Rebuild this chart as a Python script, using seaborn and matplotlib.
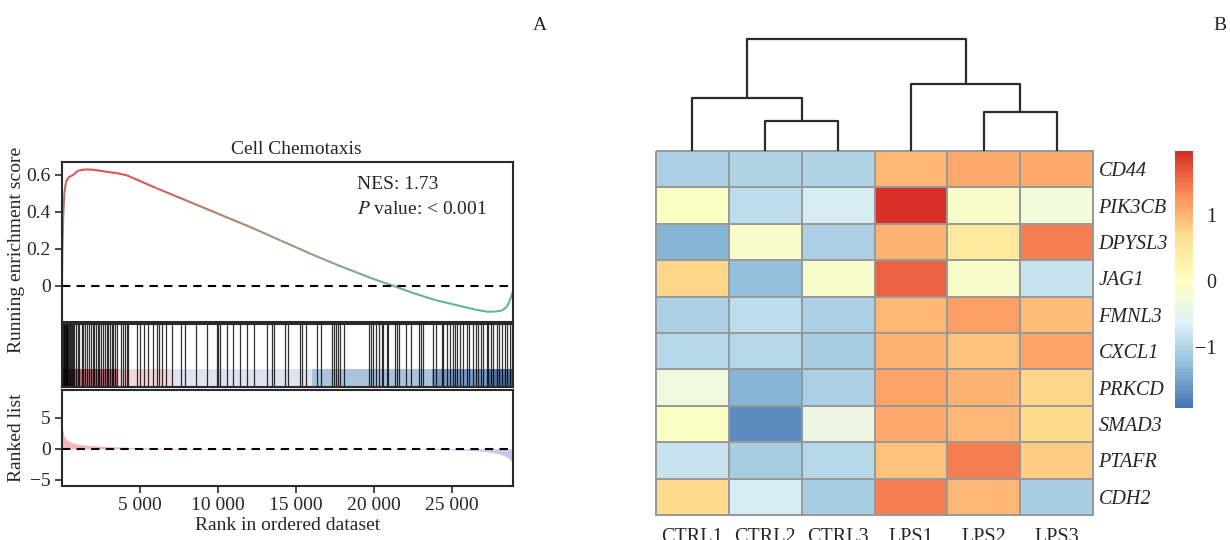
import numpy as np
import pandas as pd
import matplotlib
matplotlib.use('Agg')
import matplotlib.pyplot as plt
import seaborn as sns
from matplotlib.collections import LineCollection
from matplotlib.colors import LinearSegmentedColormap

# ---------------- Panel A: GSEA ----------------
n_genes = 28900
gene_set = 'Cell Chemotaxis'
nes_text = 'NES: 1.73'

es_rank = [0, 30, 80, 150, 250, 400, 600, 800, 1000, 1500, 2000, 2500, 3000, 3500, 4150,
           6000, 8000, 10000, 12000, 14000, 16000, 18000, 20000, 21200, 22500,
           24000, 25500, 26500, 27300, 27800, 28200, 28500, 28700, 28900]
es_score = [0.0, 0.2, 0.38, 0.5, 0.56, 0.585, 0.595, 0.605, 0.622, 0.63, 0.628, 0.622, 0.615, 0.61, 0.598,
            0.53, 0.46, 0.39, 0.32, 0.245, 0.17, 0.1, 0.035, 0.0, -0.04,
            -0.08, -0.11, -0.13, -0.142, -0.14, -0.135, -0.115, -0.08, -0.03]

hit_ranks = [20, 60, 110, 150, 192, 230, 260, 300, 350, 406, 450, 513, 550, 620, 684, 769, 897,
             1047, 1111, 1260, 1367, 1496, 1624, 1752, 1859, 1966, 2073, 2180, 2286, 2393, 2500,
             2650, 2756, 2863, 2970, 3077, 3184, 3290, 3397, 3504, 3782, 3889, 4038, 4145, 4252,
             4829, 5000, 5278, 5534, 5812, 6111, 6239, 6389, 6667, 7030, 7607, 7885, 8590, 9274,
             9915, 10021, 10128, 10556, 10983, 11410, 11838, 12329, 13120, 13483, 13611, 14295,
             14509, 15256, 15406, 15620, 16325, 16603, 17286, 17457, 17543, 17671, 17821, 18100,
             19650, 19800, 19950, 20100, 20300, 20491, 20598, 20855, 20919, 21346, 21453, 21624,
             22051, 22350, 22906, 22991, 23162, 23761, 23974, 24338, 24444, 24701, 24872, 25043,
             25192, 25342, 25513, 25726, 25940, 26111, 26368, 26538, 26688, 26838, 27009, 27222,
             27329, 27479, 27650, 27863, 28034, 28184, 28397, 28547, 28718, 28825]

band_edges = [0, 3500, 7000, 16000, 23700, 27300, 28900]
band_colors = ['#B25E6A', '#F0D2D8', '#D9E1ED', '#A2BBD6', '#658CBA', '#396196']

metric_rank = [0, 20, 50, 100, 150, 300, 600, 1000, 2000, 3000, 5000, 7000, 10000, 15000,
               20000, 24000, 26000, 27000, 28000, 28500, 28800, 28900]
metric_value = [4.5, 3.6, 3.0, 2.4, 2.0, 1.5, 1.0, 0.75, 0.5, 0.35, 0.2, 0.1, 0.03, 0.0,
                -0.03, -0.1, -0.25, -0.4, -0.8, -1.3, -2.0, -2.7]

# ---------------- Panel B: heatmap (row z-scores) ----------------
genes = ['CD44', 'PIK3CB', 'DPYSL3', 'JAG1', 'FMNL3', 'CXCL1', 'PRKCD', 'SMAD3', 'PTAFR', 'CDH2']
samples = ['CTRL1', 'CTRL2', 'CTRL3', 'LPS1', 'LPS2', 'LPS3']
ctrl1 = [-1.04, -0.05, -1.35, 0.75, -1.04, -0.97, -0.32, -0.02, -0.83, 0.72]
ctrl2 = [-0.99, -0.89, -0.10, -1.25, -0.89, -0.95, -1.35, -1.72, -1.07, -0.70]
ctrl3 = [-0.99, -0.71, -1.05, -0.10, -1.03, -1.07, -1.04, -0.39, -0.98, -1.07]
lps1 = [0.97, 1.97, 1.00, 1.60, 0.97, 1.03, 1.12, 1.10, 0.89, 1.42]
lps2 = [1.09, -0.10, 0.48, -0.12, 1.16, 0.90, 1.02, 0.97, 1.40, 0.98]
lps3 = [1.09, -0.26, 1.42, -0.81, 0.95, 1.13, 0.76, 0.72, 0.81, -1.07]
vmin, vmax = -1.92, 1.97
tick_vals = [-1, 0, 1]

# column clustering: (left, right, height); leaves 0..5, new nodes numbered from 6
col_linkage = [(1, 2, 30), (0, 6, 53), (4, 5, 39), (3, 8, 68), (7, 9, 113)]

pheat_colors = ['#4575B4', '#91BFDB', '#E0F3F8', '#FFFFBF', '#FEE090', '#FC8D59', '#D73027']


def fmt_thousands(v):
    return f'{int(v):,}'.replace(',', ' ')


def dendro_segments(linkage, n):
    xpos = {i: i + 0.5 for i in range(n)}
    ypos = {i: 0.0 for i in range(n)}
    segs = []
    for k, (a, b, h) in enumerate(linkage):
        segs.append([(xpos[a], ypos[a]), (xpos[a], h), (xpos[b], h), (xpos[b], ypos[b])])
        xpos[n + k] = (xpos[a] + xpos[b]) / 2
        ypos[n + k] = h
    return segs


sns.set_theme(style='white')
plt.rcParams['font.family'] = ['Liberation Serif', 'DejaVu Serif']
plt.rcParams['font.size'] = 14
plt.rcParams['mathtext.fontset'] = 'stix'

W, H = 1230, 540
fig = plt.figure(figsize=(W / 100, H / 100), dpi=100)


def px_axes(x0, y0, x1, y1):
    return fig.add_axes([x0 / W, 1 - y1 / H, (x1 - x0) / W, (y1 - y0) / H])


ax_es = px_axes(62, 162, 513, 322)
ax_hit = px_axes(62, 324, 513, 387)
ax_rank = px_axes(62, 390, 513, 486)

frame_col = '#2a2a2a'
for ax in (ax_es, ax_hit, ax_rank):
    ax.set_xlim(0, n_genes)
    for sp in ax.spines.values():
        sp.set_color(frame_col)
        sp.set_linewidth(1.5)
        sp.set_visible(True)

# running enrichment score with a red -> green gradient
pts = np.column_stack([es_rank, es_score]).reshape(-1, 1, 2)
segs = np.concatenate([pts[:-1], pts[1:]], axis=1)
es_cmap = LinearSegmentedColormap.from_list('es', ['#5DB897', '#9A9A80', '#E04E50'])
mid = (np.array(es_score[:-1]) + np.array(es_score[1:])) / 2
lc = LineCollection(segs, cmap=es_cmap, norm=plt.Normalize(-0.14, 0.63), linewidth=1.5)
lc.set_array(mid)
ax_es.add_collection(lc)
ax_es.axhline(0, color='black', ls=(0, (4, 3)), lw=1.5)
ax_es.set_ylim(-0.197, 0.67)
ax_es.set_yticks([0, 0.2, 0.4, 0.6])
ax_es.set_yticklabels(['0', '0.2', '0.4', '0.6'])
ax_es.set_xticks([])
ax_es.tick_params(axis='y', left=True, length=5, width=1.2, color=frame_col, pad=3)
ax_es.text(0.655, 0.86, nes_text, transform=ax_es.transAxes, fontsize=14, va='center')
ax_es.text(0.655, 0.70, r'$\it{P}$ value: < 0.001', transform=ax_es.transAxes, fontsize=14, va='center')
ax_es.set_title(gene_set, fontsize=14, pad=6, x=0.52)
ax_es.set_ylabel('Running enrichment score', fontsize=14)

# hit bars + coloured rank band
ax_hit.vlines(hit_ranks, 0, 1, color='black', lw=0.9, alpha=0.8)
for lo, hi, c in zip(band_edges[:-1], band_edges[1:], band_colors):
    ax_hit.axvspan(lo, hi, ymin=0, ymax=0.29, color=c, alpha=0.88, lw=0)
ax_hit.set_ylim(0, 1)
ax_hit.set_xticks([])
ax_hit.set_yticks([])

# ranked list metric
mr = np.array(metric_rank)
mv = np.array(metric_value)
ax_rank.fill_between(mr, mv, 0, where=mv >= 0, interpolate=True, color='#F4B8B8', lw=0)
ax_rank.fill_between(mr, mv, 0, where=mv <= 0, interpolate=True, color='#C6CBE6', lw=0)
ax_rank.axhline(0, color='black', ls=(0, (4, 3)), lw=1.5)
ax_rank.set_ylim(-6, 9.5)
ax_rank.set_yticks([-5, 0, 5])
ax_rank.set_yticklabels(['\u22125', '0', '5'])
xt = [5000, 10000, 15000, 20000, 25000]
ax_rank.set_xticks(xt)
ax_rank.set_xticklabels([fmt_thousands(v) for v in xt])
ax_rank.tick_params(axis='both', bottom=True, left=True, length=5, width=1.2, color=frame_col, pad=3)
ax_rank.set_ylabel('Ranked list', fontsize=14)
ax_rank.set_xlabel('Rank in ordered dataset', fontsize=14, labelpad=2)
for ax in (ax_es, ax_rank):
    ax.tick_params(labelsize=14)
ax_es.yaxis.set_label_coords(-0.082, 0.45)
ax_rank.yaxis.set_label_coords(-0.082, 0.5)

# ---------------- Panel B ----------------
df = pd.DataFrame({'CTRL1': ctrl1, 'CTRL2': ctrl2, 'CTRL3': ctrl3,
                   'LPS1': lps1, 'LPS2': lps2, 'LPS3': lps3}, index=genes)[samples]
cmap = LinearSegmentedColormap.from_list('pheat', pheat_colors, N=100)

ax_hm = px_axes(656, 151, 1093, 515)
ax_den = px_axes(656, 39, 1093, 151)
cax = px_axes(1175, 151, 1193, 408)

sns.heatmap(df, ax=ax_hm, cmap=cmap, vmin=vmin, vmax=vmax, linewidths=1.3, linecolor='#999999',
            cbar_ax=cax, cbar_kws={'ticks': tick_vals})
ax_hm.collections[0].set_clip_on(False)
ax_hm.yaxis.tick_right()
ax_hm.set_yticks(np.arange(len(genes)) + 0.5)
ax_hm.set_yticklabels(genes, rotation=0, fontstyle='italic', fontsize=14.5)
ax_hm.set_xticks(np.arange(len(samples)) + 0.5)
ax_hm.set_xticklabels(samples, rotation=0, fontsize=14.5, va='top')
ax_hm.tick_params(axis='y', length=0, pad=4)
ax_hm.tick_params(axis='x', length=0, pad=9)
ax_hm.set_xlabel('')
ax_hm.set_ylabel('')

cbar = ax_hm.collections[0].colorbar
cbar.outline.set_visible(False)
cbar.ax.tick_params(length=0, pad=17, labelsize=14.5)
cbar.ax.set_yticklabels(['\u22121', '0', '1'], ha='right')

for seg in dendro_segments(col_linkage, len(samples)):
    xs, ys = zip(*seg)
    ax_den.plot(xs, ys, color='#2b2b2b', lw=1.6, clip_on=False, solid_capstyle='butt')
ax_den.set_xlim(0, len(samples))
ax_den.set_ylim(0, max(h for _, _, h in col_linkage))
ax_den.axis('off')

fig.text(540 / W, 1 - 25 / H, 'A', fontsize=14, ha='center', va='center')
fig.text(1213 / W, 1 - 25 / H, 'B', fontsize=14, ha='left', va='center')

fig.savefig('out.png', dpi=100)
